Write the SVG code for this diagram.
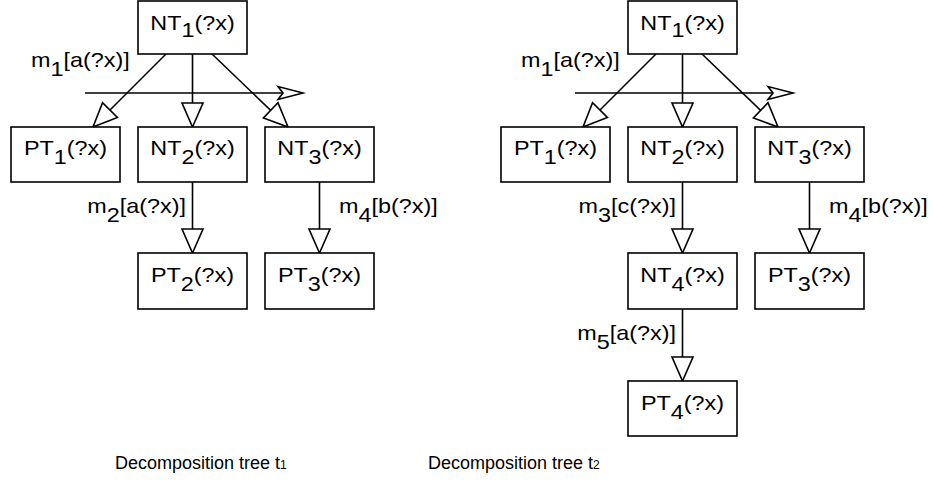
<svg xmlns="http://www.w3.org/2000/svg" width="933" height="496" viewBox="0 0 933 496">
<style>
.box{fill:#fff;stroke:#000;stroke-width:1.6}
.ln{fill:none;stroke:#000;stroke-width:1.6}
.t{font-family:"Liberation Sans",Arial,sans-serif;font-size:20px;fill:#000}
.cap{font-family:"Liberation Sans",Arial,sans-serif;font-size:18px;fill:#000}
</style>
<defs>
<marker id="tri" markerUnits="userSpaceOnUse" markerWidth="30" markerHeight="30" refX="0" refY="0" orient="auto" overflow="visible">
<path d="M0,0 L-24,-10.5 L-24,10.5 Z" fill="#fff" stroke="#000" stroke-width="1.6" stroke-linejoin="miter"/>
</marker>
<marker id="dart" markerUnits="userSpaceOnUse" markerWidth="30" markerHeight="30" refX="0" refY="0" orient="auto" overflow="visible">
<path d="M0,0 L-25,-6.5 L-20,0 L-25,6.5 Z" fill="#fff" stroke="#000" stroke-width="1.6" stroke-linejoin="miter"/>
</marker>
</defs>

<g id="connectors">
<!-- tree 1 -->
<line class="ln" x1="166" y1="54" x2="93" y2="127" marker-end="url(#tri)"/>
<line class="ln" x1="192.5" y1="54" x2="192.5" y2="127" marker-end="url(#tri)"/>
<line class="ln" x1="212" y1="54" x2="288" y2="127" marker-end="url(#tri)"/>
<line class="ln" x1="85" y1="93" x2="303" y2="93" marker-end="url(#dart)"/>
<line class="ln" x1="192.5" y1="182" x2="192.5" y2="253" marker-end="url(#tri)"/>
<line class="ln" x1="319.5" y1="182" x2="319.5" y2="253" marker-end="url(#tri)"/>
<!-- tree 2 -->
<line class="ln" x1="656" y1="54" x2="583" y2="127" marker-end="url(#tri)"/>
<line class="ln" x1="682.5" y1="54" x2="682.5" y2="127" marker-end="url(#tri)"/>
<line class="ln" x1="702" y1="54" x2="778" y2="127" marker-end="url(#tri)"/>
<line class="ln" x1="575" y1="93" x2="793" y2="93" marker-end="url(#dart)"/>
<line class="ln" x1="682.5" y1="182" x2="682.5" y2="253" marker-end="url(#tri)"/>
<line class="ln" x1="809.5" y1="182" x2="809.5" y2="253" marker-end="url(#tri)"/>
<line class="ln" x1="682.5" y1="309" x2="682.5" y2="381" marker-end="url(#tri)"/>
<!-- labels -->
<text class="t" transform="translate(31,67) scale(1.17,1)">m<tspan dy="9">1</tspan><tspan dy="-9">[a(?x)]</tspan></text>
<text class="t" text-anchor="end" transform="translate(186,213) scale(1.17,1)">m<tspan dy="9">2</tspan><tspan dy="-9">[a(?x)]</tspan></text>
<text class="t" transform="translate(339,213) scale(1.17,1)">m<tspan dy="9">4</tspan><tspan dy="-9">[b(?x)]</tspan></text>
<text class="t" transform="translate(521,67) scale(1.17,1)">m<tspan dy="9">1</tspan><tspan dy="-9">[a(?x)]</tspan></text>
<text class="t" text-anchor="end" transform="translate(676,213) scale(1.17,1)">m<tspan dy="9">3</tspan><tspan dy="-9">[c(?x)]</tspan></text>
<text class="t" transform="translate(829,213) scale(1.17,1)">m<tspan dy="9">4</tspan><tspan dy="-9">[b(?x)]</tspan></text>
<text class="t" text-anchor="end" transform="translate(676,340) scale(1.17,1)">m<tspan dy="9">5</tspan><tspan dy="-9">[a(?x)]</tspan></text>
</g>

<!-- tree 1 nodes -->
<g id="t1-NT1"><rect class="box" x="138" y="1" width="109" height="53"/><text class="t" text-anchor="middle" transform="translate(192.5,30) scale(1.17,1)">NT<tspan dy="7">1</tspan><tspan dy="-7">(?x)</tspan></text></g>
<g id="t1-PT1"><rect class="box" x="11" y="127" width="109" height="55"/><text class="t" text-anchor="middle" transform="translate(65.5,155) scale(1.17,1)">PT<tspan dy="9">1</tspan><tspan dy="-9">(?x)</tspan></text></g>
<g id="t1-NT2"><rect class="box" x="138" y="127" width="109" height="55"/><text class="t" text-anchor="middle" transform="translate(192.5,155) scale(1.17,1)">NT<tspan dy="9">2</tspan><tspan dy="-9">(?x)</tspan></text></g>
<g id="t1-NT3"><rect class="box" x="265" y="127" width="109" height="55"/><text class="t" text-anchor="middle" transform="translate(319.5,155) scale(1.17,1)">NT<tspan dy="9">3</tspan><tspan dy="-9">(?x)</tspan></text></g>
<g id="t1-PT2"><rect class="box" x="138" y="253" width="109" height="56"/><text class="t" text-anchor="middle" transform="translate(192.5,282) scale(1.17,1)">PT<tspan dy="9">2</tspan><tspan dy="-9">(?x)</tspan></text></g>
<g id="t1-PT3"><rect class="box" x="265" y="253" width="109" height="56"/><text class="t" text-anchor="middle" transform="translate(319.5,282) scale(1.17,1)">PT<tspan dy="9">3</tspan><tspan dy="-9">(?x)</tspan></text></g>

<!-- tree 2 nodes -->
<g id="t2-NT1"><rect class="box" x="628" y="1" width="109" height="53"/><text class="t" text-anchor="middle" transform="translate(682.5,30) scale(1.17,1)">NT<tspan dy="7">1</tspan><tspan dy="-7">(?x)</tspan></text></g>
<g id="t2-PT1"><rect class="box" x="501" y="127" width="109" height="55"/><text class="t" text-anchor="middle" transform="translate(555.5,155) scale(1.17,1)">PT<tspan dy="9">1</tspan><tspan dy="-9">(?x)</tspan></text></g>
<g id="t2-NT2"><rect class="box" x="628" y="127" width="109" height="55"/><text class="t" text-anchor="middle" transform="translate(682.5,155) scale(1.17,1)">NT<tspan dy="9">2</tspan><tspan dy="-9">(?x)</tspan></text></g>
<g id="t2-NT3"><rect class="box" x="755" y="127" width="109" height="55"/><text class="t" text-anchor="middle" transform="translate(809.5,155) scale(1.17,1)">NT<tspan dy="9">3</tspan><tspan dy="-9">(?x)</tspan></text></g>
<g id="t2-NT4"><rect class="box" x="628" y="253" width="109" height="56"/><text class="t" text-anchor="middle" transform="translate(682.5,282) scale(1.17,1)">NT<tspan dy="9">4</tspan><tspan dy="-9">(?x)</tspan></text></g>
<g id="t2-PT3"><rect class="box" x="755" y="253" width="109" height="56"/><text class="t" text-anchor="middle" transform="translate(809.5,282) scale(1.17,1)">PT<tspan dy="9">3</tspan><tspan dy="-9">(?x)</tspan></text></g>
<g id="t2-PT4"><rect class="box" x="628" y="381" width="109" height="55"/><text class="t" text-anchor="middle" transform="translate(682.5,410) scale(1.17,1)">PT<tspan dy="9">4</tspan><tspan dy="-9">(?x)</tspan></text></g>

<g id="captions">
<text class="cap" x="115" y="469">Decomposition tree t<tspan font-size="12">1</tspan></text>
<text class="cap" x="428" y="469">Decomposition tree t<tspan font-size="12">2</tspan></text>
</g>
</svg>
